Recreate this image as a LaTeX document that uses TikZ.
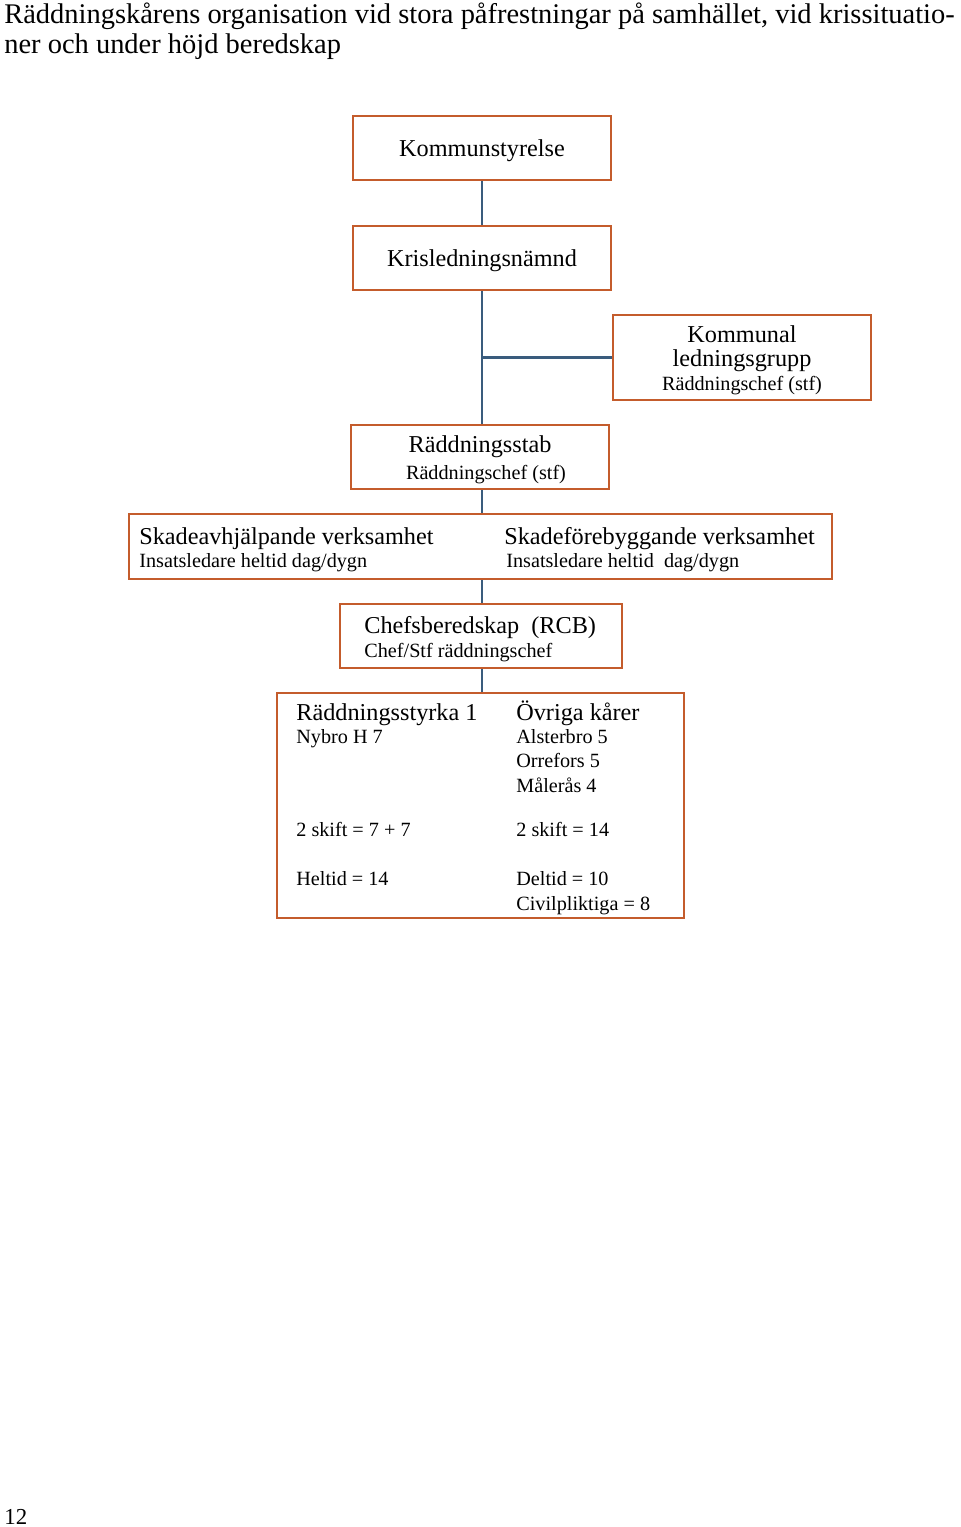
\documentclass[tikz,border=0pt]{standalone}
\usepackage{fontspec}
\setmainfont{Liberation Serif}
\usetikzlibrary{positioning}
\definecolor{boxorange}{RGB}{196,92,44}
\definecolor{linkblue}{RGB}{58,92,125}

\begin{document}
\begin{tikzpicture}[
    x=0.02cm, y=-0.02cm,
    box/.style={draw=boxorange, line width=1.3pt, rectangle, inner sep=0pt},
    link/.style={draw=linkblue, line width=1.2pt},
    big/.style={font=\fontsize{13.8}{16}\selectfont, inner sep=0pt},
    small/.style={font=\fontsize{11.5}{13}\selectfont, inner sep=0pt},
    title/.style={font=\fontsize{16.2}{18}\selectfont, inner sep=0pt, anchor=base west}
]
    % Seitenrahmen
    \useasboundingbox (0,0) rectangle (960,1527);

    % Überschrift
    \node[title] (title1) at (4,24) {Räddningskårens organisation vid stora påfrestningar på samhället, vid krissituatio-};
    \node[title] (title2) at (4,54) {ner och under höjd beredskap};

    % Kästen
    \node[box, minimum width=258*0.02cm, minimum height=64*0.02cm] (ks) at (482,148) {};
    \node[box, minimum width=258*0.02cm, minimum height=64*0.02cm] (kn) at (482,258) {};
    \node[box, minimum width=258*0.02cm, minimum height=85*0.02cm] (klg) at (742,357.5) {};
    \node[box, minimum width=258*0.02cm, minimum height=64*0.02cm] (rs) at (480,457) {};
    \node[box, minimum width=703*0.02cm, minimum height=65*0.02cm] (sv) at (480.5,546.5) {};
    \node[box, minimum width=282*0.02cm, minimum height=64*0.02cm] (cb) at (481,636) {};
    \node[box, minimum width=407*0.02cm, minimum height=225*0.02cm] (rk) at (480.5,805.5) {};

    % Texte in den Kästen
    \node[big, anchor=base] (ksT) at (482,157) {Kommunstyrelse};
    \node[big, anchor=base] (knT) at (482,267) {Krisledningsnämnd};
    \node[big, anchor=base] (klgA) at (742,342) {Kommunal};
    \node[big, anchor=base] (klgB) at (742,366) {ledningsgrupp};
    \node[small, anchor=base] (klgC) at (742,390) {Räddningschef (stf)};
    \node[big, anchor=base] (rsT) at (480,452) {Räddningsstab};
    \node[small, anchor=base] (rsS) at (486,479) {Räddningschef (stf)};

    \node[big, anchor=base west] (svL) at (139,544) {Skadeavhjälpande verksamhet};
    \node[small, anchor=base west] (svLs) at (139,567) {Insatsledare heltid dag/dygn};
    \node[big, anchor=base west] (svR) at (504,544) {Skadeförebyggande verksamhet};
    \node[small, anchor=base west] (svRs) at (506,567) {Insatsledare heltid\ \ dag/dygn};

    \node[big, anchor=base west] (cbT) at (364,633) {Chefsberedskap\ \ (RCB)};
    \node[small, anchor=base west] (cbS) at (364,657) {Chef/Stf räddningschef};

    \node[big, anchor=base west] (rkL1) at (296,720) {Räddningsstyrka 1};
    \node[small, anchor=base west] (rkL2) at (296,743) {Nybro H 7};
    \node[small, anchor=base west] (rkL3) at (296,836) {2 skift = 7 + 7};
    \node[small, anchor=base west] (rkL4) at (296,885) {Heltid = 14};
    \node[big, anchor=base west] (rkR1) at (516,720) {Övriga kårer};
    \node[small, anchor=base west] (rkR2) at (516,743) {Alsterbro 5};
    \node[small, anchor=base west] (rkR3) at (516,767) {Orrefors 5};
    \node[small, anchor=base west] (rkR4) at (516,792) {Målerås 4};
    \node[small, anchor=base west] (rkR5) at (516,836) {2 skift = 14};
    \node[small, anchor=base west] (rkR6) at (516,885) {Deltid = 10};
    \node[small, anchor=base west] (rkR7) at (516,910) {Civilpliktiga = 8};

    % Seitenzahl
    \node[font=\fontsize{13}{15}\selectfont, inner sep=0pt, anchor=base west] (page) at (4,1524) {12};

    % Verbindungslinien
    \draw[link] (ks.south) -- (kn.north);
    \draw[link] (kn.south) -- (kn.south |- rs.north);
    \draw[link] (kn.south |- klg.west) -- (klg.west);
    \draw[link] (rs.south -| kn.south) -- (kn.south |- sv.north);
    \draw[link] (sv.south -| kn.south) -- (kn.south |- cb.north);
    \draw[link] (cb.south -| kn.south) -- (kn.south |- rk.north);
\end{tikzpicture}
\end{document}
